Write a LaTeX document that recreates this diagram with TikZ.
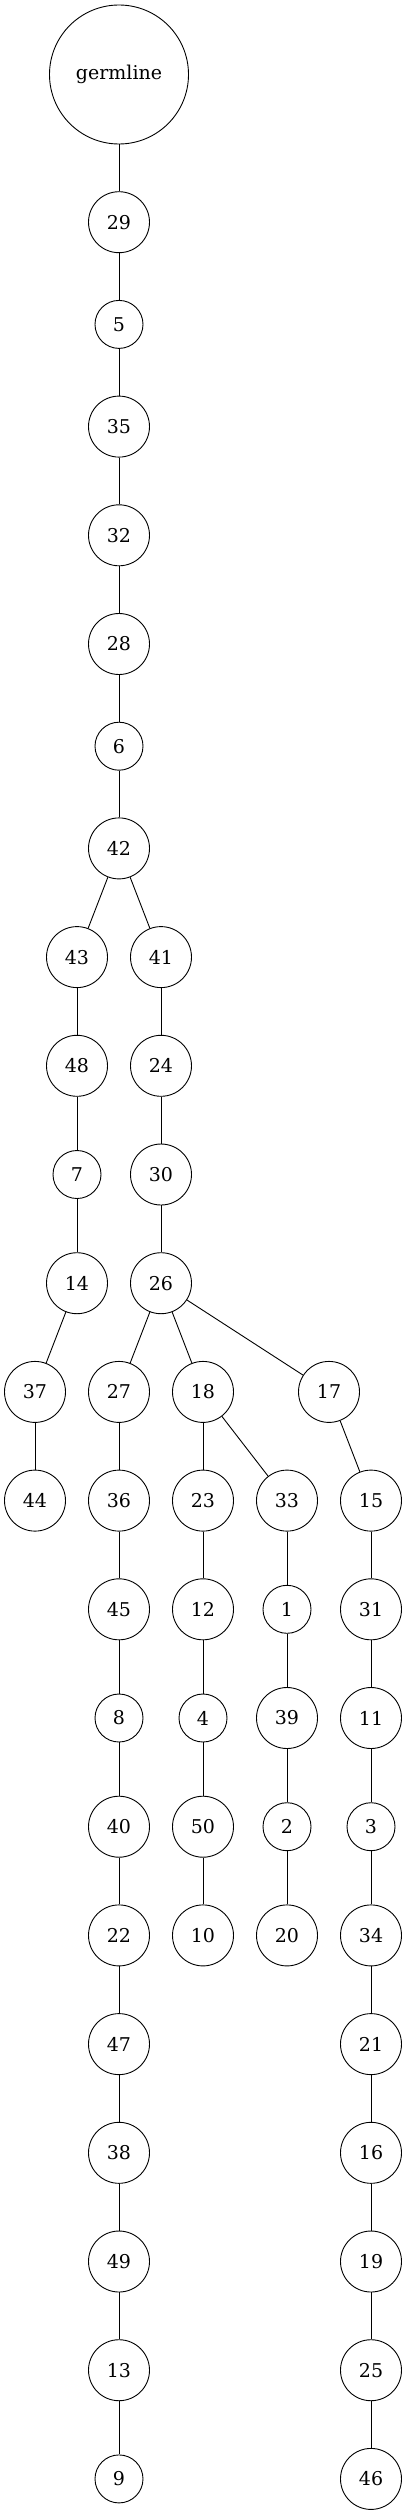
\documentclass[tikz,border=0pt]{standalone}
\usepackage{fontspec}
\setmainfont{DejaVu Serif}

\begin{document}
\begin{tikzpicture}[x=1pt, y=-1pt, line width=0.9pt, font=\fontsize{19}{22}\selectfont,
  clone/.style={draw, circle, inner sep=0pt, minimum size=61pt},
  onedig/.style={clone, minimum size=48pt}]
  \useasboundingbox (0,0) rectangle (407,2515);
  % root and trunk
  \node[clone, minimum size=139pt] (germline) at (119,74.5) {germline};
  \node[clone]  (n29) at (119,222.2) {29};
  \node[onedig] (n5)  at (119,324.4) {5};
  \node[clone]  (n35) at (119,426.6) {35};
  \node[clone]  (n32) at (119,535.3) {32};
  \node[clone]  (n28) at (119,644.0) {28};
  \node[onedig] (n6)  at (119,746.2) {6};
  \node[clone]  (n42) at (119,848.4) {42};
  % left branch
  \node[clone]  (n43) at (77,957.1) {43};
  \node[clone]  (n48) at (77,1065.8) {48};
  \node[onedig] (n7)  at (77,1174.5) {7};
  \node[clone]  (n14) at (77,1283.2) {14};
  \node[clone]  (n37) at (35,1391.9) {37};
  \node[clone]  (n44) at (35,1500.6) {44};
  % right branch
  \node[clone]  (n41) at (161,957.1) {41};
  \node[clone]  (n24) at (161,1065.8) {24};
  \node[clone]  (n30) at (161,1174.5) {30};
  \node[clone]  (n26) at (161,1283.2) {26};
  % under 26
  \node[clone]  (n27) at (119,1391.9) {27};
  \node[clone]  (n36) at (119,1500.6) {36};
  \node[clone]  (n45) at (119,1609.3) {45};
  \node[onedig] (n8)  at (119,1718.0) {8};
  \node[clone]  (n40) at (119,1826.7) {40};
  \node[clone]  (n22) at (119,1935.4) {22};
  \node[clone]  (n47) at (119,2044.1) {47};
  \node[clone]  (n38) at (119,2152.8) {38};
  \node[clone]  (n49) at (119,2261.5) {49};
  \node[clone]  (n13) at (119,2370.2) {13};
  \node[onedig] (n9)  at (119,2478.9) {9};
  \node[clone]  (n18) at (203,1391.9) {18};
  \node[clone]  (n23) at (203,1500.6) {23};
  \node[clone]  (n12) at (203,1609.3) {12};
  \node[onedig] (n4)  at (203,1718.0) {4};
  \node[clone]  (n50) at (203,1826.7) {50};
  \node[clone]  (n10) at (203,1935.4) {10};
  \node[clone]  (n33) at (287,1500.6) {33};
  \node[onedig] (n1)  at (287,1609.3) {1};
  \node[clone]  (n39) at (287,1718.0) {39};
  \node[onedig] (n2)  at (287,1826.7) {2};
  \node[clone]  (n20) at (287,1935.4) {20};
  \node[clone]  (n17) at (329,1391.9) {17};
  \node[clone]  (n15) at (371,1500.6) {15};
  \node[clone]  (n31) at (371,1609.3) {31};
  \node[clone]  (n11) at (371,1718.0) {11};
  \node[onedig] (n3)  at (371,1826.7) {3};
  \node[clone]  (n34) at (371,1935.4) {34};
  \node[clone]  (n21) at (371,2044.1) {21};
  \node[clone]  (n16) at (371,2152.8) {16};
  \node[clone]  (n19) at (371,2261.5) {19};
  \node[clone]  (n25) at (371,2370.2) {25};
  \node[clone]  (n46) at (371,2478.9) {46};
  % edges
  \foreach \a/\b in {germline/n29, n29/n5, n5/n35, n35/n32, n32/n28, n28/n6, n6/n42,
      n42/n43, n42/n41, n43/n48, n48/n7, n7/n14, n14/n37, n37/n44,
      n41/n24, n24/n30, n30/n26, n26/n27, n26/n18, n26/n17,
      n27/n36, n36/n45, n45/n8, n8/n40, n40/n22, n22/n47, n47/n38, n38/n49, n49/n13, n13/n9,
      n18/n23, n23/n12, n12/n4, n4/n50, n50/n10,
      n18/n33, n33/n1, n1/n39, n39/n2, n2/n20,
      n17/n15, n15/n31, n31/n11, n11/n3, n3/n34, n34/n21, n21/n16, n16/n19, n19/n25, n25/n46} {
    \draw (\a) -- (\b);
  }
\end{tikzpicture}
\end{document}
